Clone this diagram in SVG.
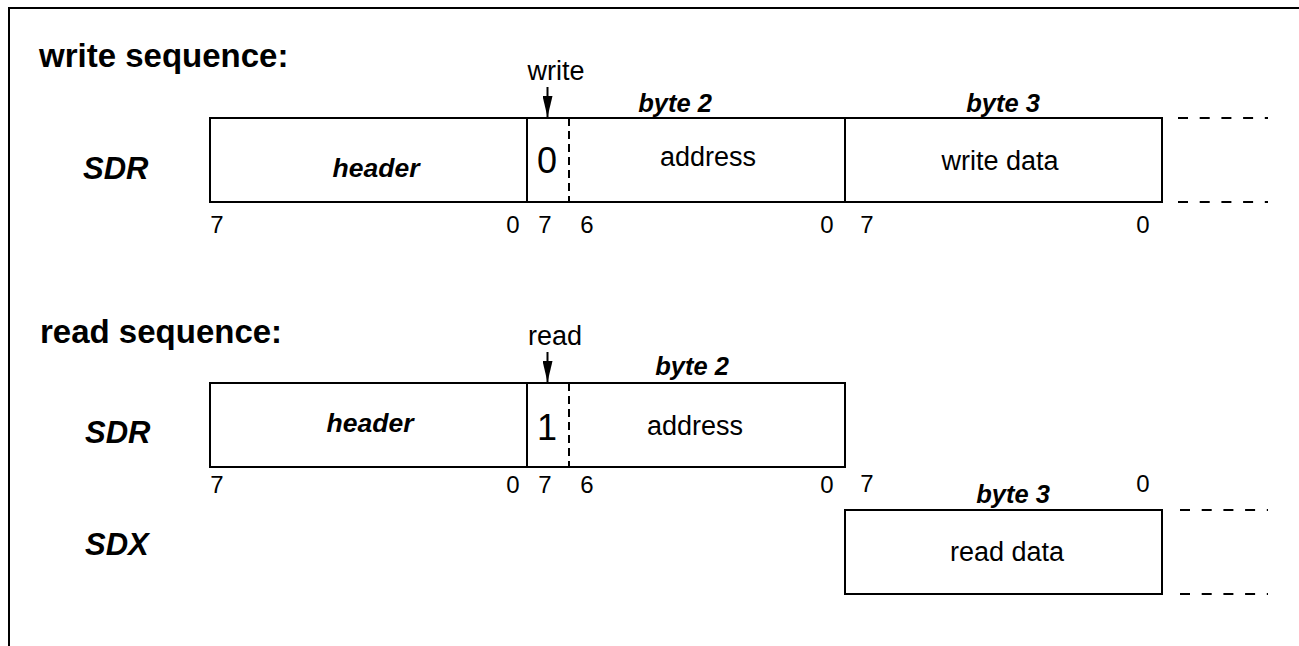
<svg xmlns="http://www.w3.org/2000/svg" width="1299" height="646" viewBox="0 0 1299 646">
<defs>
<style>
text{font-family:"Liberation Sans",Arial,sans-serif;fill:#000}
.h{font-size:33px;font-weight:bold}
.reg{font-size:31px;font-weight:bold;font-style:italic}
.hdr{font-size:26.5px;font-weight:bold;font-style:italic;text-anchor:middle}
.byte{font-size:25.5px;font-weight:bold;font-style:italic;text-anchor:middle}
.lbl{font-size:27px;text-anchor:middle}
.bit{font-size:36px;text-anchor:middle}
.num{font-size:24px;text-anchor:middle}
.box{fill:#fff;stroke:#000;stroke-width:2}
.ln{stroke:#000;stroke-width:2;fill:none}
.dv{stroke:#000;stroke-width:2;stroke-dasharray:8 5;fill:none}
.dh{stroke:#000;stroke-width:2;stroke-dasharray:10 11.7;fill:none}
</style>
<marker id="ah" viewBox="0 0 21 10" refX="21" refY="5" markerWidth="21" markerHeight="10" markerUnits="userSpaceOnUse" orient="auto">
<path d="M0,0 L21,5 L0,10 Z" fill="#000"/>
</marker>
</defs>
<rect width="1299" height="646" fill="#fff"/>
<path class="ln" d="M9,646 V8 H1299"/>

<g id="write-seq">
<text class="h" x="39" y="67">write sequence:</text>
<text class="reg" x="83" y="179">SDR</text>
</g>
<g id="w-header">
<rect class="box" x="210" y="118" width="317" height="84"/>
<text class="hdr" x="376" y="177">header</text>
</g>
<g id="w-byte2">
<rect class="box" x="527" y="118" width="318" height="84"/>
<text class="bit" x="547" y="173">0</text>
<text class="lbl" x="708" y="166">address</text>
<text class="byte" x="675" y="112">byte 2</text>
</g>
<g id="w-byte3">
<rect class="box" x="845" y="118" width="317" height="84"/>
<text class="lbl" x="1000" y="170">write data</text>
<text class="byte" x="1003" y="112">byte 3</text>
</g>
<g id="w-nums">
<text class="num" x="217" y="233">7</text>
<text class="num" x="513" y="233">0</text>
<text class="num" x="545" y="233">7</text>
<text class="num" x="587" y="233">6</text>
<text class="num" x="827" y="233">0</text>
<text class="num" x="867" y="233">7</text>
<text class="num" x="1143" y="233">0</text>
</g>
<g id="w-write">
<text class="lbl" x="556" y="80">write</text>
</g>

<g id="read-seq">
<text class="h" x="40" y="343">read sequence:</text>
<text class="reg" x="85" y="443">SDR</text>
<text class="reg" x="85" y="555">SDX</text>
</g>
<g id="r-header">
<rect class="box" x="210" y="383" width="317" height="84"/>
<text class="hdr" x="370" y="432">header</text>
</g>
<g id="r-byte2">
<rect class="box" x="527" y="383" width="318" height="84"/>
<text class="bit" x="547" y="440">1</text>
<text class="lbl" x="695" y="435">address</text>
<text class="byte" x="692" y="375">byte 2</text>
</g>
<g id="r-byte3">
<rect class="box" x="845" y="510" width="317" height="84"/>
<text class="lbl" x="1007" y="561">read data</text>
<text class="byte" x="1013" y="503">byte 3</text>
</g>
<g id="r-nums">
<text class="num" x="217" y="493">7</text>
<text class="num" x="513" y="493">0</text>
<text class="num" x="545" y="493">7</text>
<text class="num" x="587" y="493">6</text>
<text class="num" x="827" y="493">0</text>
<text class="num" x="867" y="492">7</text>
<text class="num" x="1143" y="492">0</text>
</g>
<g id="r-read">
<text class="lbl" x="555" y="345">read</text>
</g>

<g id="connectors">
<line class="dv" x1="569" y1="118" x2="569" y2="202"/>
<line class="dv" x1="569" y1="383" x2="569" y2="467"/>
<path class="dh" d="M1178,118 H1268 M1178,202 H1268"/>
<path class="dh" d="M1180,510 H1268 M1180,594 H1268"/>
<line class="ln" x1="547.5" y1="87" x2="547.5" y2="117" marker-end="url(#ah)"/>
<line class="ln" x1="547.5" y1="352" x2="547.5" y2="382" marker-end="url(#ah)"/>
</g>
</svg>
